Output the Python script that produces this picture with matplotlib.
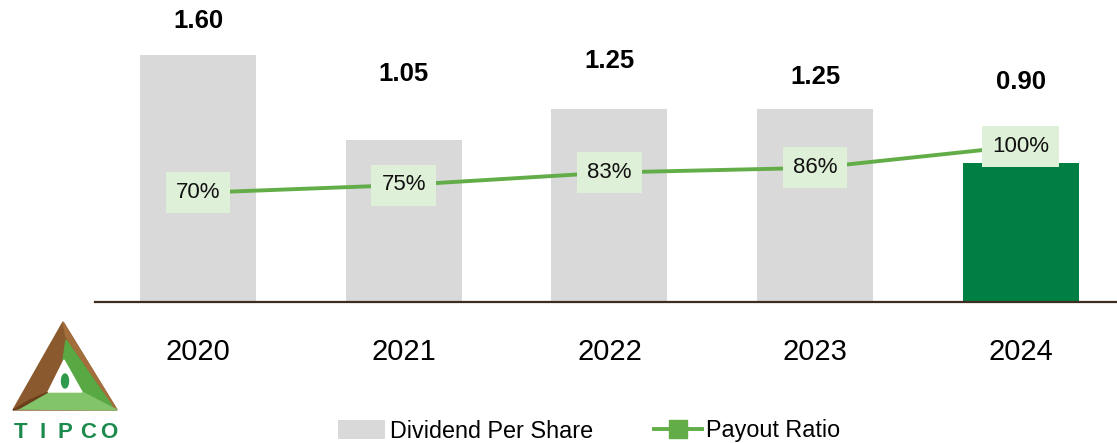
import matplotlib
matplotlib.use('Agg')
import matplotlib.pyplot as plt
import numpy as np
from matplotlib.patches import Polygon, Patch, Ellipse
from matplotlib.lines import Line2D

plt.rcParams['font.family'] = ['Liberation Sans', 'DejaVu Sans']

# data
years = ['2020', '2021', '2022', '2023', '2024']
dps = [1.60, 1.05, 1.25, 1.25, 0.90]
payout = [70, 75, 83, 86, 100]
dps_labels = ['1.60', '1.05', '1.25', '1.25', '0.90']
payout_labels = ['70%', '75%', '83%', '86%', '100%']
# label offsets above bar top (points), the original layout is uneven
label_offsets = [24.5, 47.5, 34.5, 23, 58]

W, H = 1117, 443
fig = plt.figure(figsize=(W / 100, H / 100), dpi=100)

ax_left, ax_right, ax_top, ax_base = 95, 1117, 20, 302
ax = fig.add_axes([ax_left / W, 1 - ax_base / H, (ax_right - ax_left) / W, (ax_base - ax_top) / H])

x = np.arange(len(years))
bar_colors = ['#d9d9d9'] * 4 + ['#007f45']
bars = ax.bar(x, dps, width=0.564, color=bar_colors, zorder=1)

ax.set_xlim(-0.5006, 4.467)
ax.set_ylim(0, (ax_base - ax_top) / 154.4)

for i, b in enumerate(bars):
    ax.annotate(dps_labels[i], (b.get_x() + b.get_width() / 2, b.get_height()),
                xytext=(0, label_offsets[i]), textcoords='offset points',
                ha='center', va='center', fontsize=18.5, fontweight='bold', color='black')

ax2 = ax.twinx()
ax2.set_ylim(0, (ax_base - ax_top) / 1.56)
ax2.axis('off')
ax2.plot(x, payout, color='#62ad47', linewidth=2.8, zorder=2)
for i in range(len(x)):
    ax2.text(x[i], payout[i], payout_labels[i], ha='center', va='center', fontsize=16,
             color='#111111', zorder=3,
             bbox=dict(boxstyle='square,pad=0.45', facecolor='#dff0d8', edgecolor='none'))

ax.set_xticks(x)
ax.set_xticklabels(years, fontsize=21)
ax.tick_params(axis='x', length=0, pad=26)
ax.set_yticks([])
for s in ['top', 'right', 'left']:
    ax.spines[s].set_visible(False)
ax.spines['bottom'].set_color('#3e2c20')
ax.spines['bottom'].set_linewidth(1.6)

# legend
handles = [Patch(facecolor='#d9d9d9', edgecolor='none'),
           Line2D([0], [0], color='#62ad47', linewidth=2.8, marker='s', markersize=13,
                  markerfacecolor='#62ad47', markeredgecolor='#62ad47')]
fig.legend(handles, ['Dividend Per Share', 'Payout Ratio'], loc='center',
           bbox_to_anchor=(589 / W, 1 - 431 / H), ncol=2, frameon=False, fontsize=16.8,
           handlelength=2.05, handleheight=0.9, handletextpad=0.2, columnspacing=2.6,
           borderpad=0, borderaxespad=0)

# logo
lg = fig.add_axes([0, 0, 1, 1], zorder=-1)
lg.set_xlim(0, W)
lg.set_ylim(H, 0)
lg.axis('off')
lg.add_patch(Polygon([(63, 322), (13, 410), (117, 410)], closed=True, color='#8a5a2e'))
lg.add_patch(Polygon([(63, 322), (117, 410), (110, 404), (66, 337)], closed=True, color='#a36e3c'))
lg.add_patch(Polygon([(66, 340), (112, 406), (82, 392), (63, 360)], closed=True, color='#58a843'))
lg.add_patch(Polygon([(18, 409), (117, 410), (82, 392), (48, 392)], closed=True, color='#82c46a'))
lg.add_patch(Polygon([(13, 410), (30, 400), (48, 392), (20, 408)], closed=True, color='#6b3f1c'))
lg.add_patch(Polygon([(48, 392), (82, 392), (64, 360)], closed=True, color='white'))
lg.add_patch(Ellipse((65, 381), 7, 14, color='#2f9a4a'))
for ch, cx in zip('TIPCO', [21, 43, 65, 88, 109]):
    lg.text(cx, 433, ch, ha='center', va='center', fontsize=16, fontweight='bold', color='#1b8a4c')

fig.savefig('out.png', dpi=100)
